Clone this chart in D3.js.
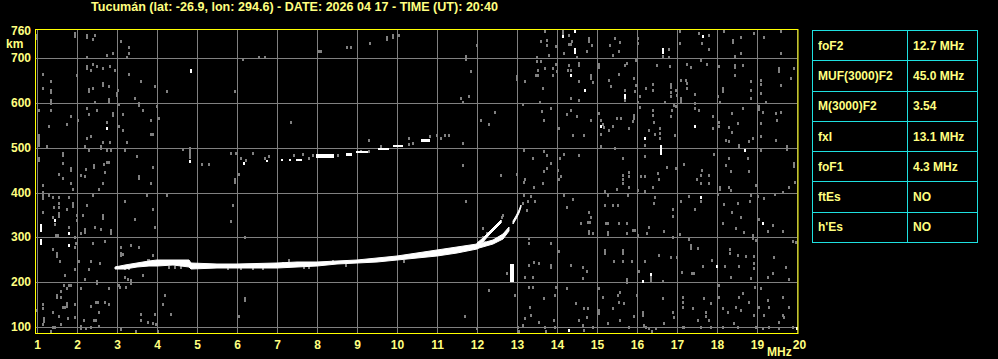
<!DOCTYPE html>
<meta charset="utf-8">
<style>
body{ margin:0; background:#000; }
svg{ display:block; }
.lbl{ font-family:"Liberation Sans", Arial, sans-serif; font-weight:bold; font-size:12px; fill:#ffff80; }
</style>
<svg width="998" height="359"></svg>
<script src="https://d3js.org/d3.v7.min.js"></script>
<script>
var title = "Tucumán (lat: -26.9, lon: 294.6) - DATE: 2026 04 17 - TIME (UT): 20:40";

// axis ticks
var freqTicks = [1,2,3,4,5,6,7,8,9,10,11,12,13,14,15,16,17,18,19,20];
var kmGrid = [100,200,300,400,500,600,700];
var kmLabels = [100,200,300,400,500,600,700,760];

// scaled parameters table
var paramNames = ["foF2","MUF(3000)F2","M(3000)F2","fxI","foF1","ftEs","h'Es"];
var paramValues = ["12.7 MHz","45.0 MHz","3.54","13.1 MHz","4.3 MHz","NO","NO"];

// F trace: [freq, km bottom, km top]
var oTrace = [[2.95,229,234],[3.2,229,238],[3.5,234,243],[3.8,236,247],[4.0,236,249],[4.4,238,249],[4.8,233,249],
  [4.85,229,243],[5.5,231,240],[6.0,231,240],[7.0,232,242],[7.5,234,244],[8.0,236,246],[8.5,240,248],[9.0,242,250],
  [9.5,246,255],[10.0,250,258],[10.5,253,265],[11.0,258,272],[11.5,265,278],[12.0,274,285],[12.06,276,285],
  [12.39,286,295],[12.64,297,307],[12.81,314,322]];
var oBranch = [[12.0,280,287],[12.14,290,298],[12.31,305,312],[12.43,316,323],[12.54,327,334],[12.6,333,339]];
var xBranch = [[12.9,329,336],[12.97,341,348],[13.04,354,360],[13.11,367,373]];
// second hop pieces: [freq from, freq to, km bottom, km top]
var hopTrace = [[6.72,6.77,468,472],[7.1,7.16,471,475],[7.3,7.36,471,475],[7.47,7.62,471,475],[7.98,8.43,478,485],
  [8.72,8.88,482,487],[8.98,9.28,488,492],[9.52,9.81,494,500],[9.89,10.14,501,506],[10.6,10.82,513,520]];
var spike = [[12.83,12.93,201,240]];

// noise echoes [freq, km]
var noiseGray = [[1.96,756],[1.96,748],[2.24,752],[2.24,747],[2.45,752],[2.39,743],[3.10,739],[3.29,725],[3.29,711],[3.24,703],[2.91,711],[2.74,707],[2.24,703],[1.0,752],[1.0,745],[1.14,665],[1.34,648],[1.34,629],[1.34,624],[1.34,606],[1.34,600],[1.14,633],[1.99,661],[2.24,682],[2.24,677],[2.39,687],[2.50,683],[2.64,678],[2.83,683],[2.95,674],[2.35,674],[3.29,665],[3.60,648],[2.64,644],[2.64,640],[2.79,638],[2.29,631],[2.29,627],[2.39,633],[3.03,629],[3.0,622],[3.0,618],[2.79,609],[2.79,605],[3.95,638],[4.24,626],[3.45,611],[3.54,600],[3.54,596],[3.04,597],[2.45,602],[1.04,585],[1.34,585],[2.24,588],[2.50,585],[2.91,577],[2.91,573],[2.29,575],[1.85,571],[2.03,562],[3.14,575],[3.64,585],[3.99,594],[4.04,566],[3.85,562],[2.74,557],[1.74,553],[1.29,549],[3.04,549],[3.16,540],[3.85,530],[3.9,530],[1.04,528],[1.04,523],[1.04,518],[1.04,513],[1.04,507],[2.35,527],[2.24,522],[2.64,513],[2.83,513],[3.24,513],[2.6,503],[2.6,499],[2.2,504],[1.25,504],[2.31,494],[2.74,494],[2.85,494],[3.2,495],[1.64,488],[1.64,483],[3.5,482],[1.04,477],[1.04,472],[1.64,466],[1.85,455],[1.85,450],[2.74,467],[2.79,467],[2.68,464],[2.42,462],[2.42,457],[2.23,453],[2.71,445],[2.1,440],[1.56,442],[1.64,432],[2.2,437],[3.54,436],[3.54,432],[3.89,456],[4.83,499],[4.83,494],[4.83,490],[4.83,485],[4.83,479],[4.64,498],[5.12,464],[5.29,464],[6.14,698],[6.54,703],[6.69,703],[5.95,626],[7.35,557],[8.06,715],[8.1,715],[8.74,725],[8.84,725],[9.33,734],[9.75,746],[9.75,742],[9.89,751],[9.89,746],[10.02,752],[10.06,752],[9.29,518],[10.29,522],[10.39,510],[5.85,487],[5.98,487],[6.10,477],[6.23,473],[6.04,442],[5.95,429],[6.39,487],[6.69,477],[6.79,481],[7.43,483],[7.64,486],[7.79,477],[7.89,484],[8.52,484],[9.1,492],[9.31,492],[9.6,503],[10.31,508],[10.83,525],[10.99,528],[11.1,522],[11.21,528],[11.29,528],
  [1.14,417],[1.85,421],[1.89,408],[2.54,408],[2.64,421],[3.85,421],[1.14,402],[1.14,394],[1.14,387],[1.29,394],[1.41,391],[1.54,391],[1.79,391],[2.39,394],[3.75,394],[4.24,394],[1.54,376],[1.54,368],[1.89,376],[1.89,370],[1.43,368],[2.24,372],[1.74,363],[3.19,382],[3.89,363],[1.14,357],[1.54,354],[1.54,348],[1.99,350],[2.14,350],[2.64,350],[2.64,343],[1.39,345],[1.99,339],[3.44,341],[1.44,329],[1.79,324],[2.2,318],[2.2,312],[2.45,324],[2.6,318],[2.84,316],[2.84,310],[2.1,310],[1.48,305],[1.52,305],[3.95,324],[1.95,300],[1.98,288],[2.39,288],[2.7,292],[1.39,275],[1.5,264],[1.5,258],[1.95,279],[3.1,279],[3.35,283],[3.54,279],[3.1,266],[3.1,261],[3.16,263],[3.78,250],[3.89,261],[2.06,248],[2.35,248],[1.58,248],[2.58,243],[1.95,229],[2.29,229],[3.0,233],[3.19,231],[3.31,231],[3.64,216],[1.7,216],[2.2,207],[2.5,203],[2.5,198],[3.21,211],[3.27,207],[3.35,205],[3.35,198],[3.06,194],[3.08,190],[3.23,189],[1.79,194],[1.68,194],[1.85,194],[1.75,186],[1.6,180],[2.1,186],[2.79,186],[1.5,171],[1.5,167],[1.6,168],[1.14,151],[1.64,145],[1.69,145],[1.75,153],[1.75,147],[1.95,151],[2.35,147],[2.48,156],[2.52,156],[2.7,156],[2.79,151],[4.19,171],[4.14,151],[4.35,129],[1.14,142],[1.39,134],[2.56,134],[3.6,129],[3.6,116],[3.78,112],[3.95,129],[1.56,125],[1.77,119],[1.95,122],[2.18,116],[2.43,116],[2.48,116],[1.18,119],[1.18,113],[1.6,107],[1.14,106],[1.39,101],[1.44,101],[2.1,102],[2.1,98],[2.23,97],[2.35,99],[2.54,102],[3.1,95],[3.89,108],[3.98,107],[4.02,90],[3.48,90],[1.35,90],[1.0,138],[5.89,372],[5.85,337],[6.2,301],[6.19,164],[6.19,160],[6.04,125],[5.95,424],[3.8,249],[3.9,247],[4.0,247],[4.29,234],[4.45,234],[4.6,234],[5.77,231],[6.1,231],[6.4,231],[6.64,231],[7.14,243],[7.31,250],[7.68,234],[7.81,234],[8.39,248],[8.73,238],[9.77,255],[10.18,248],
  [13.18,424],[13.43,413],[13.64,421],[13.18,394],[13.35,392],[13.27,382],[13.14,377],[13.45,382],[13.24,361],[11.73,382],[14.18,394],[14.25,368],[14.41,385],[15.2,404],[15.27,394],[15.5,408],[15.64,421],[15.81,413],[15.78,394],[16.02,406],[16.21,404],[16.39,412],[16.46,391],[16.43,377],[15.2,372],[15.39,372],[15.52,372],[14.81,357],[14.85,345],[14.78,335],[14.83,335],[14.6,333],[15.23,333],[15.27,333],[15.27,313],[15.27,308],[14.81,315],[14.81,310],[14.89,309],[15.56,331],[15.74,333],[15.89,316],[15.94,316],[15.74,310],[16.02,305],[16.25,309],[16.31,324],[16.68,315],[16.89,363],[16.89,348],[16.89,301],[17.08,307],[17.1,382],[17.31,392],[17.45,363],[17.6,421],[17.6,382],[17.81,421],[18.08,413],[18.08,408],[18.31,413],[18.35,406],[18.02,397],[18.18,374],[18.38,357],[18.52,376],[18.6,345],[18.14,331],[18.48,320],[18.68,313],[18.83,382],[18.98,417],[18.85,394],[19.02,392],[19.18,387],[19.06,342],[19.27,315],[19.39,327],[19.64,315],[19.64,402],[19.46,397],[18.89,305],[18.89,298],[18.98,294],[19.89,292],[19.96,423],[13.31,298],[13.31,287],[13.85,288],[13.43,246],[13.56,243],[13.29,238],[13.85,238],[13.85,233],[13.21,211],[13.39,211],[12.75,221],[14.04,270],[14.35,238],[14.64,233],[14.74,226],[14.64,209],[15.2,272],[15.2,266],[15.64,272],[15.64,266],[15.43,248],[15.64,248],[15.88,248],[16.21,248],[16.06,226],[16.35,212],[16.35,205],[15.74,207],[15.74,201],[16.64,203],[16.54,261],[16.86,256],[16.99,256],[17.12,223],[17.35,283],[17.35,276],[17.52,276],[17.29,296],[17.38,221],[17.43,221],[17.64,235],[17.88,249],[18.33,273],[18.33,266],[18.52,261],[18.73,258],[18.93,258],[18.93,242],[18.93,231],[19.43,256],[19.73,234],[19.27,212],[19.41,221],[19.79,207],[18.21,235],[18.35,212],[18.54,236],[18.85,209],[19.81,413],[19.98,290],
  [12.31,183],[11.71,125],[12.0,97],[12.96,171],[13.31,190],[13.39,189],[13.33,145],[13.35,127],[13.2,119],[13.68,164],[13.54,112],[13.7,101],[13.73,90],[13.02,101],[13.04,90],[13.14,104],[13.98,190],[13.96,171],[13.93,116],[13.96,101],[14.25,186],[14.48,153],[14.67,143],[14.77,143],[14.75,123],[14.54,116],[14.64,104],[14.68,93],[14.89,101],[15.04,186],[15.04,138],[15.04,131],[15.14,168],[15.27,108],[15.58,179],[15.52,171],[15.56,156],[15.68,153],[15.39,142],[16.0,171],[16.14,134],[16.14,127],[16.17,104],[16.23,101],[15.81,101],[15.58,116],[15.93,125],[16.64,164],[16.68,108],[16.48,97],[16.31,97],[16.37,90],[16.89,134],[16.93,123],[17.14,168],[17.14,156],[17.14,145],[17.14,101],[17.18,101],[17.39,142],[17.52,116],[17.6,101],[17.68,164],[17.73,134],[17.85,153],[17.73,125],[17.81,116],[17.85,101],[18.04,194],[18.06,168],[18.14,142],[18.27,134],[18.14,101],[18.54,166],[18.66,175],[18.48,145],[18.6,138],[18.43,108],[18.52,101],[18.96,190],[19.1,186],[18.81,156],[19.06,145],[18.93,127],[19.18,127],[19.56,112],[19.56,97],[19.64,127],[19.68,123],[19.79,145],[19.64,168],[19.89,101],[19.27,160],[19.31,145],[19.31,101],[18.98,101],[19.14,97],
  [12.16,300],[12.2,290],[12.25,309],[12.63,345],[12.66,350],[12.59,337],[12.16,320],
  [13.7,761],[14.14,761],[14.14,756],[14.29,752],[14.38,737],[14.31,731],[14.36,731],[13.6,738],[13.74,741],[13.74,730],[14.81,745],[14.81,737],[14.88,730],[14.74,716],[14.18,711],[13.98,726],[15.45,745],[15.33,730],[15.58,736],[15.54,716],[15.39,707],[16.02,745],[16.02,734],[16.64,704],[16.79,702],[16.79,721],[17.08,761],[17.08,734],[17.54,756],[17.79,752],[17.63,734],[17.79,721],[18.18,761],[18.39,741],[18.39,736],[18.6,746],[18.6,711],[18.45,704],[18.93,756],[19.18,746],[19.6,761],[19.6,711],[11.99,730],[11.73,704],[11.73,698],[13.49,702],[13.49,693],[13.6,693],[13.79,706],[13.98,687],[14.5,702],[14.54,689],[14.54,684],[14.29,684],[15.04,687],[15.04,680],[13.7,678],[13.89,678],[13.89,663],[13.52,674],[13.48,663],[13.53,663],[14.27,674],[14.35,674],[13.99,670],[14.54,648],[14.85,663],[14.85,655],[14.89,646],[15.29,652],[15.54,664],[15.35,637],[15.71,684],[15.74,689],[15.98,696],[15.93,655],[15.98,640],[15.96,627],[15.7,629],[15.7,607],[14.54,607],[14.35,611],[13.64,633],[13.2,648],[12.99,659],[12.99,653],[11.85,670],[11.6,611],[11.64,602],[11.79,615],[16.39,642],[16.39,629],[16.23,633],[16.49,684],[16.83,682],[16.85,642],[16.85,635],[16.85,624],[16.85,615],[16.98,629],[16.99,618],[17.1,652],[17.23,652],[17.24,644],[17.1,611],[17.1,604],[17.24,633],[17.24,687],[17.35,679],[17.61,696],[17.74,687],[18.04,683],[17.45,620],[17.45,600],[18.14,633],[18.14,626],[18.45,685],[18.45,680],[18.64,684],[18.45,661],[18.02,615],[18.08,602],[18.85,648],[18.85,629],[18.85,611],[19.1,652],[19.1,642],[19.1,622],[19.23,602],[19.54,678],[19.54,671],[19.6,639],[19.85,655],[19.93,678],[16.08,615],[16.03,602],[16.08,590],[16.71,602],[16.93,596],[16.98,592],[16.39,585],[16.39,572],[16.43,557],[16.58,544],[16.58,533],[16.58,522],[16.2,505],[16.29,540],[16.46,530],[16.95,528],[16.87,585],[16.85,570],[17.46,588],[17.54,585],[17.89,570],[17.89,544],[18.06,557],[18.06,549],[18.38,577],[18.29,545],[18.38,535],[18.23,518],[18.31,514],[18.54,507],[18.54,501],[18.64,588],[18.52,555],[18.89,522],[18.81,514],[19.04,592],[19.04,586],[19.14,580],[19.1,555],[19.1,527],[19.48,577],[19.49,562],[19.6,580],[19.48,518],[19.74,503],[19.74,497],[19.1,495],[18.77,477],[18.81,447],[18.29,477],[18.23,462],[18.35,447],[19.93,466],[19.93,459],[17.93,486],[17.81,440],[17.63,451],[17.6,440],[17.5,429],[17.18,464],[16.98,455],[16.74,456],[16.52,444],[16.54,431],[16.21,436],[16.11,436],[16.19,482],[15.64,477],[15.79,446],[15.79,436],[15.64,440],[15.64,429],[15.04,577],[15.1,562],[15.18,545],[15.14,553],[15.29,540],[15.1,530],[15.1,503],[14.85,562],[15.5,566],[15.6,566],[15.39,548],[15.81,544],[15.89,559],[15.93,572],[15.93,566],[15.45,499],[14.35,585],[14.24,575],[14.5,570],[14.39,528],[14.06,544],[14.68,528],[14.54,484],[14.18,486],[14.08,477],[14.02,451],[13.74,484],[13.74,455],[13.68,492],[13.39,477],[13.18,495],[14.1,436],[14.06,429],[13.58,602],[13.62,582],[13.85,588],[13.68,562],[13.14,597],[12.45,580],[12.1,562],[12.29,553],[11.64,510],[11.64,462],[12.6,438],[12.99,441],[13.21,429],[13.68,447],[13.85,466]];
var noiseWhite = [[2.74,544],[4.84,674],[4.84,670],[4.83,470],[6.18,466],[1.44,339],[1.09,327],[1.09,321],[1.09,316],[1.79,310],[1.09,294],[1.09,287],[1.79,283],[17.6,391],[19.14,333],[16.14,203],[16.35,218],[17.99,235],[14.31,93],[20.0,97],[14.14,748],[14.44,761],[14.44,719],[14.44,714],[16.64,719],[16.64,714],[17.64,748],[14.34,661],[15.7,618],[15.7,613],[14.7,629],[16.6,503],[16.6,497],[16.6,492],[16.6,488],[16.19,522],[17.44,549],[18.7,495],[15.1,548]];

var svg = d3.select("svg");
var gridColor = "#808080", yellow = "#ffff80", cyan = "#1ee0e0";

svg.append("rect").attr("width", 998).attr("height", 359).attr("fill", "#000");

var x = d3.scaleLinear().domain([1, 20]).rangeRound([37, 797]);
var y = d3.scaleLinear().domain([100, 700]).rangeRound([327, 58]);

// grid
var gx = svg.append("g")
  .attr("transform", "translate(0,333)")
  .call(d3.axisBottom(x).tickValues(freqTicks).tickSize(-304).tickFormat(""));
var gy = svg.append("g")
  .attr("transform", "translate(36,0)")
  .call(d3.axisLeft(y).tickValues(kmGrid).tickSize(-762).tickFormat(""));
[gx, gy].forEach(function(g){
  g.select(".domain").remove();
  g.selectAll("line").attr("stroke", gridColor);
});

// noise
svg.append("g").selectAll("rect")
  .data(noiseGray)
  .enter().append("rect")
  .attr("x", function(d){ return x(d[0]) - 1; })
  .attr("y", function(d){ return y(d[1]) - 1; })
  .attr("width", 2).attr("height", 3)
  .attr("fill", gridColor);

svg.append("g").selectAll("rect")
  .data(noiseWhite)
  .enter().append("rect")
  .attr("x", function(d){ return x(d[0]) - 1; })
  .attr("y", function(d){ return y(d[1]) - 1; })
  .attr("width", 2).attr("height", 3)
  .attr("fill", "#fff");

// traces
var band = d3.area()
  .x(function(d){ return x(d[0]); })
  .y0(function(d){ return y(d[1]); })
  .y1(function(d){ return y(d[2]); });

svg.append("g").selectAll("path")
  .data([oTrace, oBranch, xBranch])
  .enter().append("path")
  .attr("d", band)
  .attr("fill", "#fff")
  .attr("stroke", "#fff")
  .attr("stroke-width", 1);

svg.append("g").selectAll("rect")
  .data(hopTrace.concat(spike))
  .enter().append("rect")
  .attr("x", function(d){ return x(d[0]); })
  .attr("y", function(d){ return y(d[3]); })
  .attr("width", function(d){ return Math.max(2, x(d[1]) - x(d[0])); })
  .attr("height", function(d){ return y(d[2]) - y(d[3]); })
  .attr("fill", "#fff");

// frame
svg.append("rect")
  .attr("x", 35.5).attr("y", 29.5)
  .attr("width", 762.5).attr("height", 304)
  .attr("fill", "none").attr("stroke", "#ffff00");

// labels
svg.append("text").attr("class", "lbl")
  .attr("x", 91).attr("y", 11)
  .attr("textLength", 407).attr("lengthAdjust", "spacingAndGlyphs")
  .text(title);

var ax = svg.append("g")
  .attr("transform", "translate(0,333)")
  .call(d3.axisBottom(x).tickValues(freqTicks).tickSize(0).tickPadding(7.5));
var ay = svg.append("g")
  .attr("transform", "translate(31,0)")
  .call(d3.axisLeft(y).tickValues(kmLabels).tickSize(0).tickPadding(0));
[ax, ay].forEach(function(g){
  g.select(".domain").remove();
  g.attr("font-family", null).attr("font-size", null);
  g.selectAll("text").attr("class", "lbl").attr("fill", null);
});
ax.selectAll(".tick").filter(function(d){ return d == 20; }).select("text").attr("x", 2);

svg.append("text").attr("class", "lbl").attr("x", 6).attr("y", 48).text("km");
svg.append("text").attr("class", "lbl").attr("x", 767).attr("y", 356).text("MHz");

// parameters table
var row = d3.scaleBand().domain(paramNames).range([30, 242]);
var table = svg.append("g").attr("shape-rendering", "crispEdges");
table.append("rect")
  .attr("x", 812.5).attr("y", 30.5).attr("width", 165).attr("height", 212)
  .attr("fill", "none").attr("stroke", cyan);
table.append("line")
  .attr("x1", 907.5).attr("x2", 907.5).attr("y1", 30).attr("y2", 243)
  .attr("stroke", cyan);
table.selectAll(".sep")
  .data(paramNames.slice(1))
  .enter().append("line")
  .attr("x1", 812).attr("x2", 978)
  .attr("y1", function(d){ return Math.round(row(d)) + 0.5; })
  .attr("y2", function(d){ return Math.round(row(d)) + 0.5; })
  .attr("stroke", cyan);
table.selectAll(".pname")
  .data(paramNames)
  .enter().append("text").attr("class", "lbl")
  .attr("x", 818)
  .attr("y", function(d){ return row(d) + row.bandwidth() / 2 + 4.5; })
  .text(function(d){ return d; });
table.selectAll(".pval")
  .data(paramValues)
  .enter().append("text").attr("class", "lbl")
  .attr("x", 913)
  .attr("y", function(d, i){ return row(paramNames[i]) + row.bandwidth() / 2 + 4.5; })
  .text(function(d){ return d; });
</script>
